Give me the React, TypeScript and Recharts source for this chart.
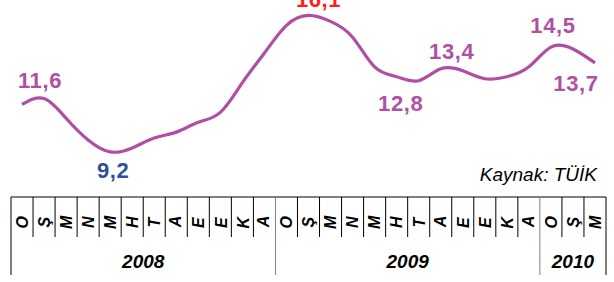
import React from "react";
import { LineChart, Line, XAxis, YAxis, LabelList } from "recharts";

// aylık işsizlik oranı (%), Ocak 2008 - Mart 2010
const months = [
  "O", "Ş", "M", "N", "M", "H", "T", "A", "E", "E", "K", "A",
  "O", "Ş", "M", "N", "M", "H", "T", "A", "E", "E", "K", "A",
  "O", "Ş", "M",
];
const years = ["2008", "2009", "2010"];
const monthsPerYear = [12, 12, 3];
const rates = [
  11.6, 11.9, 10.9, 9.8, 9.2, 9.4, 9.9, 10.2, 10.7, 11.2, 12.7, 14.2,
  15.6, 16.1, 15.8, 15.0, 13.5, 13.0, 12.8, 13.4, 13.3, 12.9, 13.0, 13.5,
  14.5, 14.4, 13.7,
];
const labelledPoints = [0, 4, 13, 18, 19, 24, 26];
const source = "Kaynak: TÜİK";

// her nokta için yıl bilgisi
const yearOf: string[] = [];
const yearStart: Record<number, number> = {};
years.forEach((y, yi) => {
  yearStart[yearOf.length] = yi;
  for (let k = 0; k < monthsPerYear[yi]; k++) yearOf.push(y);
});

const data = rates.map((v, i) => ({ ay: `${i}`, harf: months[i], yil: yearOf[i], oran: v }));

const W = 614;
const H = 282;
const LEFT = 11;
const RIGHT = 8;
const STEP = (W - LEFT - RIGHT) / data.length;
const FONT = "Arial, 'Liberation Sans', sans-serif";
const PURPLE = "#B04EA4";

// etiket yerleşimi (dx, dy: nokta konumuna göre)
const labelStyle: Record<number, { dx: number; dy: number; fill: string }> = {
  0: { dx: 18, dy: -16, fill: "#B050A2" },
  4: { dx: 3, dy: 26, fill: "#2F4E9C" },
  13: { dx: 10, dy: -8, fill: "#FF1E1E" },
  18: { dx: -18, dy: 30, fill: "#B050A2" },
  19: { dx: 11, dy: -10, fill: "#B050A2" },
  24: { dx: 2, dy: -14, fill: "#B050A2" },
  26: { dx: -19, dy: 28, fill: "#B050A2" },
};

const MonthTick = (props: any) => {
  const { x, y, index } = props;
  const left = x - STEP / 2;
  const yi = yearStart[index];
  const isStart = yi !== undefined;
  const isLast = index === data.length - 1;
  return (
    <g>
      <line
        x1={left}
        x2={left}
        y1={y}
        y2={isStart ? y + 78 : y + 40}
        stroke={isStart && index > 0 ? "#808080" : "#000"}
        strokeWidth={1}
      />
      {isLast && (
        <line x1={x + STEP / 2} x2={x + STEP / 2} y1={y} y2={y + 78} stroke="#000" strokeWidth={1} />
      )}
      <text
        x={x}
        y={y + 25}
        textAnchor="middle"
        dominantBaseline="central"
        fontFamily={FONT}
        fontWeight="bold"
        fontStyle="italic"
        fontSize={16}
        fill="#000"
        style={{ transform: "rotate(-90deg)", transformBox: "fill-box", transformOrigin: "center" }}
      >
        {data[index].harf}
      </text>
      {isStart && (
        <text
          x={left + (monthsPerYear[yi] * STEP) / 2}
          y={y + 71}
          textAnchor="middle"
          fontFamily={FONT}
          fontWeight="bold"
          fontStyle="italic"
          fontSize={19}
          fill="#000"
        >
          {years[yi]}
        </text>
      )}
    </g>
  );
};

const ValueLabel = (props: any) => {
  const { x, y, value, index } = props;
  if (!labelledPoints.includes(index)) return null;
  const s = labelStyle[index];
  return (
    <text
      x={x + s.dx}
      y={y + s.dy}
      textAnchor="middle"
      fontFamily={FONT}
      fontWeight="bold"
      fontSize={22}
      letterSpacing={0.6}
      fill={s.fill}
    >
      {Number(value).toFixed(1).replace(".", ",")}
    </text>
  );
};

export default function App() {
  return (
    <div style={{ position: "absolute", left: 0, top: 0, width: W, height: H, background: "#fff" }}>
      <LineChart width={W} height={H} data={data} margin={{ top: 0, right: RIGHT, left: LEFT, bottom: 0 }}>
        <XAxis
          dataKey="ay"
          height={85}
          interval={0}
          tickLine={false}
          tickSize={0}
          tickMargin={0}
          axisLine={{ stroke: "#000", strokeWidth: 1 }}
          padding={{ left: STEP / 2, right: STEP / 2 }}
          tick={<MonthTick />}
        />
        <YAxis hide width={0} domain={[6.92, 16.88]} allowDataOverflow />
        <Line
          type="natural"
          dataKey="oran"
          stroke={PURPLE}
          strokeWidth={3.2}
          dot={false}
          isAnimationActive={false}
        >
          <LabelList dataKey="oran" content={<ValueLabel />} />
        </Line>
      </LineChart>
      <svg width={W} height={H} style={{ position: "absolute", left: 0, top: 0, pointerEvents: "none" }}>
        <text x={597} y={181} textAnchor="end" fontFamily={FONT} fontStyle="italic" fontSize={19} fill="#000">
          {source}
        </text>
      </svg>
    </div>
  );
}
